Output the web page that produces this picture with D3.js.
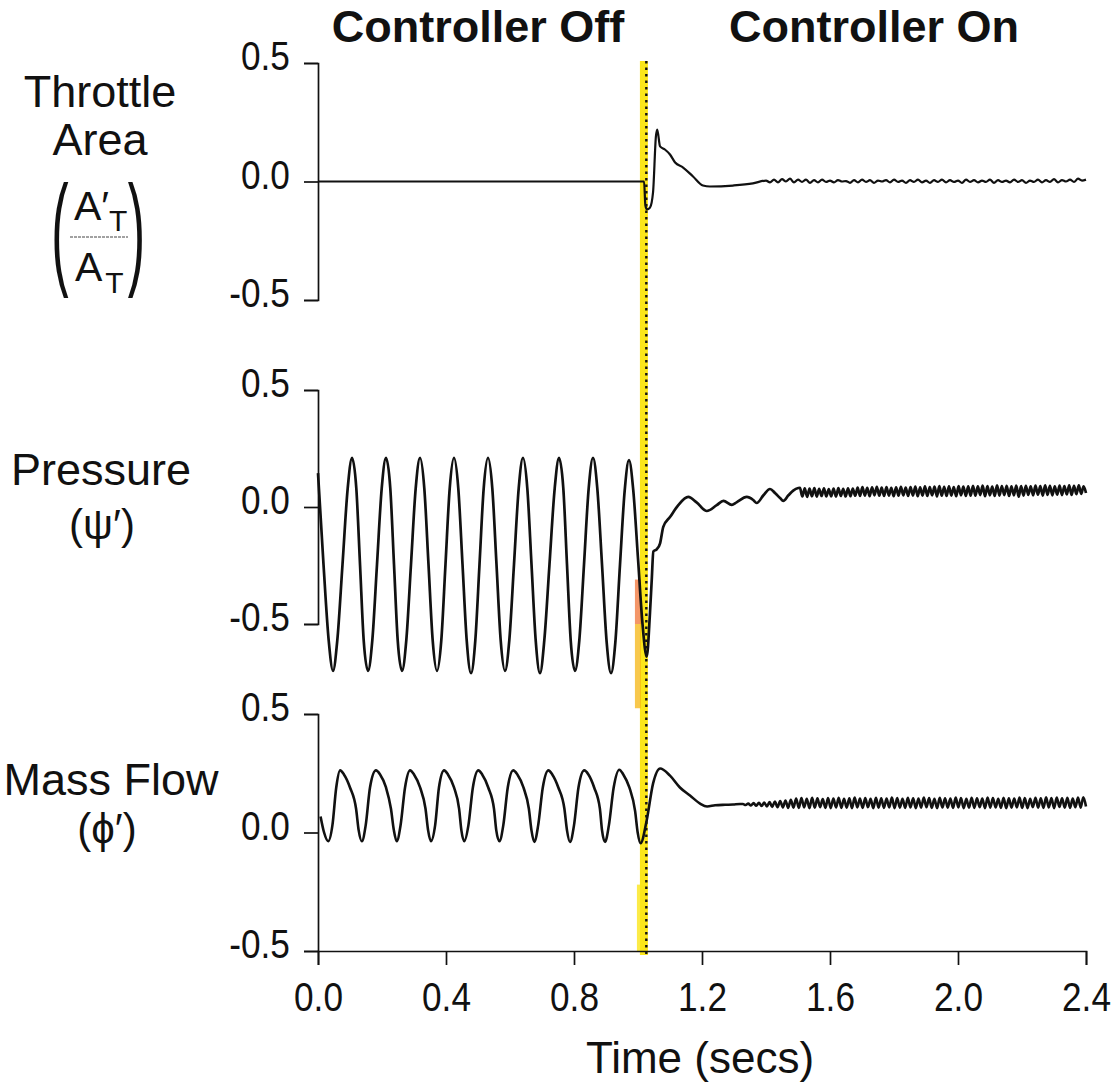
<!DOCTYPE html>
<html><head><meta charset="utf-8">
<script src="https://cdn.jsdelivr.net/npm/d3@7"></script>
<style>
html,body{margin:0;padding:0;background:#fff;}
svg{display:block;}
.lbl{font-family:"Liberation Sans",Arial,"DejaVu Sans",sans-serif;fill:#111;}
.tick text{font-family:"Liberation Sans",Arial,sans-serif;font-size:40px;fill:#111;}
</style></head><body>
<svg id="chart" width="1114" height="1082"></svg>
<script>
// ---------------- data ----------------
const xTicks = [0, 0.4, 0.8, 1.2, 1.6, 2.0, 2.4];
const xTickLabels = ["0.0", "0.4", "0.8", "1.2", "1.6", "2.0", "2.4"];
const yTicks = [-0.5, 0, 0.5];
const yTickLabels = ["-0.5", "0.0", "0.5"];
const phaseTitles = ["Controller Off", "Controller On"];
const xTitle = "Time (secs)";
const controllerOnTime = 1.026;
const bandStart = 1.006, bandEnd = 1.031;

// throttle area (time, value)
const throttleTransient = [[0,0],[1.019,0],[1.023,-0.10],[1.028,-0.118],[1.0375,-0.11],[1.047,-0.046],[1.056,0.19],[1.060,0.219],[1.069,0.148],[1.084,0.135],[1.100,0.114],[1.116,0.08],[1.141,0.059],[1.172,0.021],[1.203,-0.017],[1.225,-0.021],[1.297,-0.017],[1.359,-0.008]];
const throttleRippleStart = 1.40, throttleRippleEnd = 2.40;
const throttleRipple = [0.004,-0.004,0.008,-0.004,0.010,0.000,0.012,-0.004,0.008,-0.002,
 0.008,-0.006,0.006,-0.004,0.008,-0.002,0.004,-0.004,0.006,0.000,
 0.002,-0.006,0.006,-0.004,0.008,-0.002,0.006,-0.006,0.004,0.000,
 0.006,-0.004,0.008,-0.002,0.004,-0.006,0.006,-0.002,0.008,-0.004,
 0.004,-0.006,0.006,-0.002,0.008,-0.004,0.006,-0.002,0.004,-0.006,
 0.008,-0.002,0.006,-0.004,0.004,-0.002,0.008,-0.006,0.006,-0.002,
 0.004,-0.004,0.008,-0.002,0.006,-0.006,0.004,-0.002,0.008,-0.004,
 0.006,-0.002,0.010,-0.004,0.006,0.000,0.008,-0.002,0.012,0.004,
 0.008];

// pressure (time, value)
const pressureTransient = [[0,0.145],[0.0172,-0.245],
[0.0334,-0.57],[0.0469,-0.70],[0.0603,-0.57],[0.0766,-0.245],[0.0928,0.08],[0.1063,0.21],[0.1197,0.08],[0.1313,-0.245],
[0.1428,-0.57],[0.1563,-0.70],[0.1697,-0.57],[0.1844,-0.245],[0.1991,0.08],[0.2125,0.21],[0.2259,0.08],[0.2375,-0.245],
[0.2491,-0.57],[0.2625,-0.70],[0.2759,-0.57],[0.2906,-0.245],[0.3053,0.08],[0.3188,0.21],[0.3322,0.08],[0.3453,-0.245],
[0.3584,-0.57],[0.3719,-0.70],[0.3853,-0.57],[0.3984,-0.245],[0.4116,0.08],[0.425,0.21],[0.4384,0.08],[0.4516,-0.245],
[0.4647,-0.57],[0.4781,-0.71],[0.4916,-0.57],[0.5047,-0.245],[0.5178,0.08],[0.5313,0.21],[0.5447,0.08],[0.5578,-0.245],
[0.5709,-0.57],[0.5844,-0.70],[0.5978,-0.57],[0.6125,-0.245],[0.6272,0.08],[0.6406,0.21],[0.6541,0.08],[0.6672,-0.245],
[0.6803,-0.57],[0.6938,-0.71],[0.7072,-0.57],[0.7234,-0.245],[0.7397,0.08],[0.7531,0.21],[0.7666,0.08],[0.7781,-0.245],
[0.7897,-0.57],[0.8031,-0.70],[0.8166,-0.57],[0.8313,-0.245],[0.8459,0.08],[0.8594,0.21],[0.8728,0.08],[0.8875,-0.245],
[0.9022,-0.58],[0.9156,-0.71],[0.9291,-0.58],[0.9438,-0.245],[0.9584,0.07],[0.9719,0.20],[0.9853,0.07],[1.0,-0.22],
[1.0141,-0.50],[1.0272,-0.64],[1.0375,-0.45],[1.043,-0.31],[1.048,-0.19],[1.059,-0.18],[1.069,-0.155],[1.079,-0.085],[1.100,-0.043],
[1.126,0.008],[1.157,0.043],[1.183,0.02],[1.215,-0.017],[1.246,0.008],[1.267,0.026],[1.293,0.009],[1.308,0.02],[1.340,0.043],[1.360,0.03],
[1.371,0.017],[1.392,0.05],[1.4125,0.077],[1.428,0.06],[1.444,0.038],[1.454,0.026],[1.470,0.05],[1.485,0.07],[1.501,0.081]];
const pressureRippleStart = 1.506, pressureRippleEnd = 2.40;
const pressureRipple = [0.082,0.045,0.080,0.043,0.079,0.046,0.081,0.044,0.078,0.047,
 0.080,0.045,0.077,0.046,0.079,0.044,0.081,0.047,0.078,0.045,
 0.080,0.046,0.079,0.048,0.083,0.047,0.085,0.049,0.082,0.046,
 0.084,0.050,0.086,0.048,0.083,0.047,0.085,0.049,0.082,0.046,
 0.084,0.048,0.086,0.050,0.083,0.047,0.085,0.049,0.087,0.046,
 0.084,0.049,0.088,0.047,0.085,0.050,0.087,0.045,0.089,0.048,
 0.086,0.047,0.088,0.049,0.085,0.046,0.089,0.050,0.087,0.047,
 0.088,0.048,0.090,0.048,0.088,0.051,0.091,0.046,0.089,0.050,
 0.087,0.047,0.092,0.049,0.089,0.051,0.090,0.047,0.088,0.050,
 0.091,0.044,0.089,0.049,0.090,0.052,0.088,0.050,0.091,0.053,
 0.089,0.049,0.092,0.052,0.090,0.050,0.088,0.053,0.091,0.051,
 0.089,0.054,0.092,0.052,0.090,0.055,0.093,0.056,0.088,0.060];

// mass flow (time, value)
const massTransient = [[0.008,0.068],[0.019,0.0],[0.032,-0.037],
[0.045,0.03],[0.057,0.19],[0.069,0.262],[0.081,0.245],[0.100,0.19],[0.119,0.10],[0.127,0.01],[0.137,-0.037],
[0.149,0.03],[0.1625,0.19],[0.181,0.262],[0.194,0.245],[0.2125,0.19],[0.228,0.10],[0.237,0.01],[0.246,-0.037],
[0.258,0.03],[0.272,0.19],[0.2875,0.262],[0.300,0.245],[0.319,0.19],[0.336,0.10],[0.344,0.01],[0.353,-0.037],
[0.366,0.03],[0.378,0.19],[0.394,0.262],[0.406,0.245],[0.425,0.19],[0.441,0.10],[0.448,0.01],[0.457,-0.037],
[0.470,0.03],[0.484,0.19],[0.501,0.262],[0.513,0.245],[0.532,0.19],[0.550,0.10],[0.557,0.01],[0.567,-0.037],
[0.579,0.03],[0.593,0.19],[0.610,0.262],[0.623,0.245],[0.642,0.19],[0.659,0.10],[0.667,0.01],[0.676,-0.04],
[0.688,0.03],[0.7025,0.19],[0.720,0.262],[0.732,0.245],[0.751,0.19],[0.770,0.10],[0.778,0.01],[0.7875,-0.04],
[0.800,0.03],[0.814,0.19],[0.832,0.262],[0.845,0.245],[0.863,0.19],[0.881,0.10],[0.8875,0.01],[0.897,-0.04],
[0.909,0.03],[0.924,0.19],[0.9415,0.265],[0.954,0.245],[0.973,0.19],[0.991,0.09],[0.999,0.0],[1.008,-0.045],
[1.027,0.05],[1.047,0.206],[1.069,0.27],[1.100,0.24],[1.131,0.19],[1.1625,0.156],[1.194,0.122],[1.216,0.11],[1.241,0.115],[1.272,0.117],[1.297,0.118],[1.319,0.12]];
const massRippleStart = 1.328, massRippleEnd = 2.40;
const massRipple = [0.120,0.116,0.122,0.114,0.124,0.113,0.125,0.112,0.126,0.110,
 0.128,0.108,0.131,0.107,0.133,0.106,0.135,0.104,0.138,0.105,
 0.143,0.104,0.145,0.106,0.142,0.103,0.146,0.105,0.144,0.107,
 0.141,0.104,0.145,0.103,0.143,0.106,0.146,0.104,0.142,0.105,
 0.144,0.103,0.147,0.106,0.143,0.104,0.145,0.107,0.142,0.103,
 0.146,0.105,0.144,0.104,0.143,0.106,0.147,0.103,0.145,0.105,
 0.142,0.104,0.146,0.106,0.144,0.103,0.143,0.105,0.147,0.107,
 0.145,0.104,0.142,0.103,0.146,0.106,0.144,0.105,0.143,0.104,
 0.147,0.106,0.145,0.103,0.142,0.105,0.146,0.104,0.144,0.107,
 0.143,0.103,0.147,0.105,0.145,0.106,0.142,0.104,0.146,0.103,
 0.144,0.105,0.143,0.106,0.147,0.104,0.145,0.103,0.142,0.107,
 0.146,0.105,0.144,0.104,0.148,0.106,0.145,0.103,0.147,0.108,
 0.144,0.105,0.146,0.104,0.143,0.107,0.147,0.105,0.149,0.110];

// ---------------- build ----------------
function withRipple(transient, ripple, t0, t1) {
  const step = (t1 - t0) / (ripple.length - 1);
  return transient.concat(ripple.map((v, i) => [t0 + i * step, v]));
}
const throttle = withRipple(throttleTransient, throttleRipple, throttleRippleStart, throttleRippleEnd);
const pressure = withRipple(pressureTransient, pressureRipple, pressureRippleStart, pressureRippleEnd);
const massFlow = withRipple(massTransient, massRipple, massRippleStart, massRippleEnd);

const svg = d3.select("#chart");
const x = d3.scaleLinear().domain([0, 2.4]).range([318, 1086]);
const yT = d3.scaleLinear().domain([-0.5, 0.5]).range([300, 63]);
const yP = d3.scaleLinear().domain([-0.5, 0.5]).range([624, 390]);
const yM = d3.scaleLinear().domain([-0.5, 0.5]).range([951, 714]);

// controller-on marker band (highlighter) and speckle
const bandTop = yT(0.5) - 2, bandBottom = yM(-0.5) + 4;
svg.append("rect").attr("x", x(bandStart)).attr("y", bandTop)
  .attr("width", x(bandEnd) - x(bandStart)).attr("height", bandBottom - bandTop)
  .attr("fill", "#fbe61a");
svg.append("rect").attr("x", x(bandStart) - 5).attr("y", yP(-0.31))
  .attr("width", 6).attr("height", yP(-0.5) - yP(-0.31))
  .attr("fill", "#ef6a28").attr("opacity", 0.7);
svg.append("rect").attr("x", x(bandStart) - 5).attr("y", yP(-0.5))
  .attr("width", 6).attr("height", yP(-0.86) - yP(-0.5))
  .attr("fill", "#f6b512").attr("opacity", 0.75);
svg.append("rect").attr("x", x(bandStart) - 3).attr("y", yM(-0.22))
  .attr("width", 4).attr("height", yM(-0.5) - yM(-0.22))
  .attr("fill", "#fbe61a").attr("opacity", 0.8);

// axes + series
const panels = [[yT, throttle, 2.2], [yP, pressure, 2.7], [yM, massFlow, 2.6]];
panels.forEach(([y, data, w]) => {
  const g = svg.append("g").attr("transform", "translate(" + x(0) + ",0)")
    .call(d3.axisLeft(y).tickValues(yTicks)
      .tickFormat(d => yTickLabels[yTicks.indexOf(d)])
      .tickSize(14).tickPadding(15));
  g.select(".domain").attr("stroke", "#111").attr("stroke-width", 1.7);
  g.selectAll(".tick line").attr("stroke", "#111").attr("stroke-width", 1.7);
  g.selectAll(".tick text").attr("x", -32).attr("y", -6).attr("transform", "scale(0.88,1)");
  svg.append("path").datum(data)
    .attr("fill", "none").attr("stroke", "#111").attr("stroke-width", w)
    .attr("stroke-linejoin", "round")
    .attr("d", d3.line().x(d => x(d[0])).y(d => y(d[1])).curve(d3.curveMonotoneX));
});
const gx = svg.append("g").attr("transform", "translate(0," + yM(-0.5) + ")")
  .call(d3.axisBottom(x).tickValues(xTicks)
    .tickFormat(d => xTickLabels[xTicks.indexOf(d)])
    .tickSize(14).tickPadding(18));
gx.select(".domain").attr("stroke", "#111").attr("stroke-width", 1.7);
gx.selectAll(".tick line").attr("stroke", "#111").attr("stroke-width", 1.7);
gx.selectAll(".tick text").attr("transform", "scale(0.88,1)");

// dotted controller-on line
svg.append("line").attr("x1", x(controllerOnTime)).attr("x2", x(controllerOnTime))
  .attr("y1", bandTop).attr("y2", bandBottom)
  .attr("stroke", "#111").attr("stroke-width", 2.4).attr("stroke-dasharray", "2.5,4");

// titles
svg.append("text").attr("class", "lbl").attr("x", 478).attr("y", 42)
  .attr("text-anchor", "middle").attr("font-size", 45).attr("font-weight", "bold").text(phaseTitles[0]);
svg.append("text").attr("class", "lbl").attr("x", 874).attr("y", 42)
  .attr("text-anchor", "middle").attr("font-size", 45).attr("font-weight", "bold").text(phaseTitles[1]);
svg.append("text").attr("class", "lbl").attr("x", 700).attr("y", 1073)
  .attr("text-anchor", "middle").attr("font-size", 44).text(xTitle);

// panel labels
function lbl(txt, cx, cy, size) {
  svg.append("text").attr("class", "lbl").attr("x", cx).attr("y", cy)
    .attr("text-anchor", "middle").attr("font-size", size).text(txt);
}
lbl("Throttle", 100, 107, 45);
lbl("Area", 100, 155, 45);
lbl("Pressure", 101, 485, 45);
lbl("(ψ′)", 102, 539, 42);
lbl("Mass Flow", 111, 795, 45);
lbl("(ϕ′)", 107, 843, 42);

// fraction  A'_T / A_T
[[60, "("], [136.5, ")"]].forEach(([px, ch]) => {
  svg.append("text").attr("class", "lbl")
    .attr("transform", "translate(" + px + ",272) scale(0.42,1)")
    .attr("text-anchor", "middle").attr("font-size", 124).text(ch);
});
const num = svg.append("text").attr("class", "lbl").attr("x", 74).attr("y", 220).attr("font-size", 41);
num.append("tspan").text("A′");
num.append("tspan").attr("dy", 11).attr("font-size", 30).text("T");
svg.append("line").attr("x1", 70).attr("x2", 128).attr("y1", 237).attr("y2", 237)
  .attr("stroke", "#444").attr("stroke-width", 1).attr("stroke-dasharray", "3,1");
const den = svg.append("text").attr("class", "lbl").attr("x", 75).attr("y", 281).attr("font-size", 41);
den.append("tspan").text("A");
den.append("tspan").attr("dx", 3).attr("dy", 12).attr("font-size", 30).text("T");
</script></body></html>
